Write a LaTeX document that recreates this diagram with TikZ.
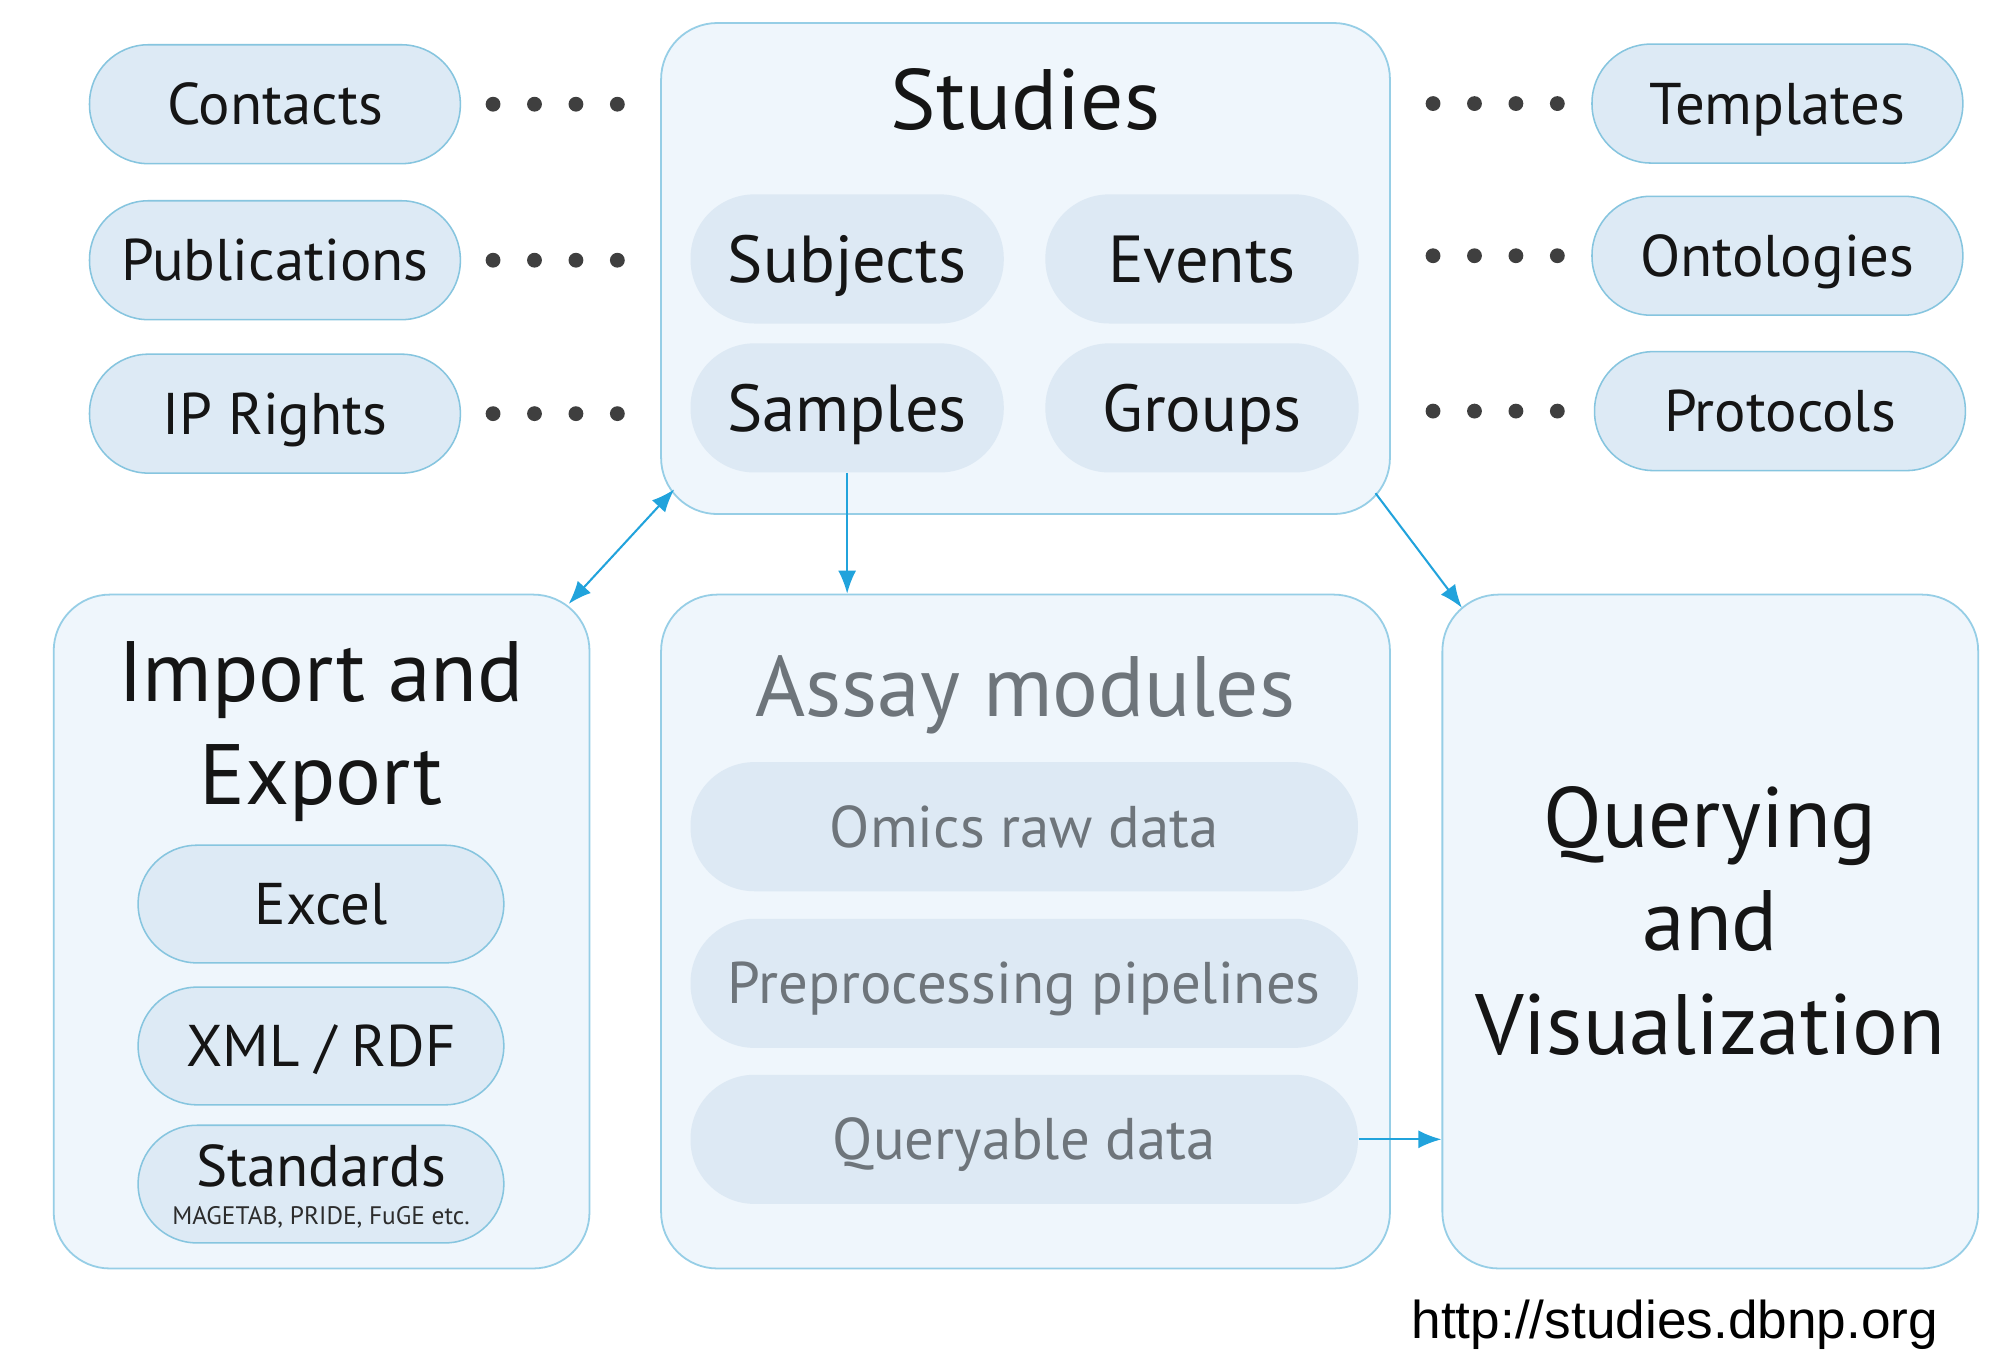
\documentclass[tikz,border=0pt]{standalone}
\usepackage{fontspec}
\setmainfont{PT Sans}
\newfontfamily\urlfont{Liberation Sans}
\usetikzlibrary{arrows.meta}
\definecolor{pillfill}{HTML}{DDEAF5}
\definecolor{pillline}{HTML}{86C5DF}
\definecolor{boxfill}{HTML}{EFF6FC}
\definecolor{boxline}{HTML}{96CEE6}
\definecolor{innerfill}{HTML}{DDE9F4}
\definecolor{arrowblue}{HTML}{21A3DC}
\definecolor{dotgray}{HTML}{3F3F3F}
\definecolor{assaygray}{HTML}{6E757B}
\definecolor{textblack}{HTML}{151515}
\begin{document}
\begin{tikzpicture}[x=0.5pt,y=-0.5pt,
  bigbox/.style={draw=boxline, line width=0.7pt, fill=boxfill, rounded corners=22pt, inner sep=0pt},
  pill/.style={draw=pillline, line width=0.6pt, fill=pillfill, rounded corners=23pt,
    minimum width=145pt, minimum height=46.5pt, inner sep=0pt,
    font=\fontsize{23}{27}\selectfont, text=textblack, text height=16.1pt, text depth=0pt},
  innerpill/.style={fill=innerfill, rounded corners=25pt, minimum height=50.5pt, inner sep=0pt,
    text height=18.2pt, text depth=0pt, font=\fontsize{26}{30}\selectfont, text=textblack},
  assaypill/.style={innerpill, minimum width=261pt, font=\fontsize{23}{27}\selectfont,
    text height=16.1pt, text=assaygray},
  title/.style={inner sep=0pt, font=\fontsize{33.5}{40.5}\selectfont, text=textblack, align=center},
  dotrow/.style={draw=dotgray, line width=5.8pt, line cap=round, dash pattern=on 0pt off 16.2pt},
  arr/.style={draw=arrowblue, line width=0.8pt, -{Latex[length=9pt,width=7pt]}},
  dblarr/.style={draw=arrowblue, line width=0.8pt, {Latex[length=9pt,width=7pt]}-{Latex[length=9pt,width=7pt]}}
]
\useasboundingbox[fill=white] (0,0) rectangle (1568,1069);

% big boxes
\node[bigbox, minimum width=285pt, minimum height=192pt] (studies) at (802,210) {};
\node[bigbox, minimum width=209.5pt, minimum height=263.5pt] (import) at (251.5,728.5) {};
\node[bigbox, minimum width=285pt, minimum height=263.5pt] (assay) at (802,728.5) {};
\node[bigbox, minimum width=209.5pt, minimum height=263.5pt] (query) at (1337.5,728.5) {};

% studies content
\node[title, text height=23.5pt, text depth=0pt] (studiestitle) at (802,78) {Studies};
\node[innerpill, minimum width=122.5pt] (subjects) at (662.5,202.5) {Subjects};
\node[innerpill, minimum width=122.5pt] (events) at (940,202.5) {Events};
\node[innerpill, minimum width=122.5pt] (samples) at (662.5,319) {Samples};
\node[innerpill, minimum width=122.5pt] (groups) at (940,319) {Groups};

% left pills
\node[pill] (contacts) at (215,81.5) {Contacts};
\node[pill] (publications) at (215,203.5) {Publications};
\node[pill] (iprights) at (215,323.5) {IP Rights};
% right pills
\node[pill] (templates) at (1390,81) {Templates};
\node[pill] (ontologies) at (1390,200) {Ontologies};
\node[pill] (protocols) at (1392,321.5) {Protocols};

% dotted links
\foreach \p in {contacts,publications,iprights}
  \draw[dotrow, shorten <=12.5pt, shorten >=15.5pt] (\p.east) -- (\p.east -| studies.west);
\foreach \p in {templates,ontologies,protocols}
  \draw[dotrow, shorten <=16.5pt, shorten >=12pt] (\p.west -| studies.east) -- (\p.west);

% import and export
\node[title] (importtitle) at (251,572) {Import and\\Export};
\node[pill, minimum width=143pt, minimum height=46pt] (excel) at (251,707) {Excel};
\node[pill, minimum width=143pt, minimum height=46pt] (xml) at (251,818) {XML / RDF};
\node[pill, minimum width=143pt, minimum height=46pt, text depth=14pt] (standards) at (251,926) {Standards};
\node[inner sep=0pt, font=\fontsize{9.9}{11}\selectfont, text=textblack!90] (stdnote) at (251,952) {MAGETAB, PRIDE, FuGE etc.};

% assay modules
\node[title, text=assaygray, text height=23.5pt, text depth=0pt] (assaytitle) at (802,537) {Assay modules};
\node[assaypill] (omics) at (801,646.5) {Omics raw data};
\node[assaypill] (prepro) at (801,769) {Preprocessing pipelines};
\node[assaypill] (queryable) at (801,891) {Queryable data};

% querying
\node[title] (querytitle) at (1337.5,720) {Querying\\and\\Visualization};

% url
\node[inner sep=0pt, anchor=east, font=\urlfont\fontsize{20.8}{24}\selectfont, text=black,
  text height=14.9pt, text depth=0pt] (url) at (1516,1032) {http://studies.dbnp.org};

% arrows
\draw[dblarr] ([shift={(-17,8)}]import.north east) -- ([shift={(11,-20)}]studies.south west);
\draw[arr] (samples.south) -- (samples.south |- assay.north);
\draw[arr] ([shift={(-12,-17)}]studies.south east) -- ([shift={(16,11)}]query.north west);
\draw[arr] (queryable.east) -- (queryable.east -| query.west);
\end{tikzpicture}
\end{document}
